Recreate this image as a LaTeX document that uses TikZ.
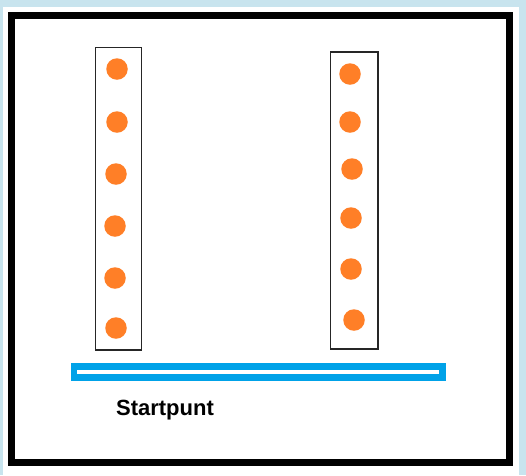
\documentclass[tikz,border=0pt]{standalone}
\usepackage{fontspec}
\setmainfont{Liberation Sans}
\definecolor{framebg}{HTML}{C8E4EE}
\definecolor{dotorange}{HTML}{FF7F27}
\definecolor{barblue}{HTML}{00A2E8}
\tikzset{
  column/.style={draw=black!85, line width=1.3pt},
  dot/.style={circle, fill=dotorange, inner sep=0pt, minimum size=21.5pt},
  bar/.style={draw=barblue, line width=6.5pt},
  label/.style={font=\bfseries\fontsize{22}{25}\selectfont, inner sep=0pt}
}
\begin{document}
\begin{tikzpicture}[x=1pt,y=-1pt]
\fill[framebg] (0,0) rectangle (526,475);
\useasboundingbox (0,0) rectangle (526,475);
\fill[white] (3,7) rectangle (519,475);
\draw[line width=7pt] (11.5,15.5) rectangle (509.5,462.5);
\draw[column] (95.5,47.5) rectangle (141.5,350);
\draw[column] (330.5,52) rectangle (378,349);
\foreach \i/\x/\y in {1/117/69,2/117/122,3/116/174,4/115/226,5/115/278,6/116/328}
  \node[dot] (l\i) at (\x,\y) {};
\foreach \i/\x/\y in {1/350/74,2/350/122,3/352/169,4/351/218,5/351/269,6/354/320}
  \node[dot] (r\i) at (\x,\y) {};
\draw[bar] (74,366.5) rectangle (442.5,377.5);
\node[label] (start) at (165,410) {Startpunt};
\end{tikzpicture}
\end{document}
